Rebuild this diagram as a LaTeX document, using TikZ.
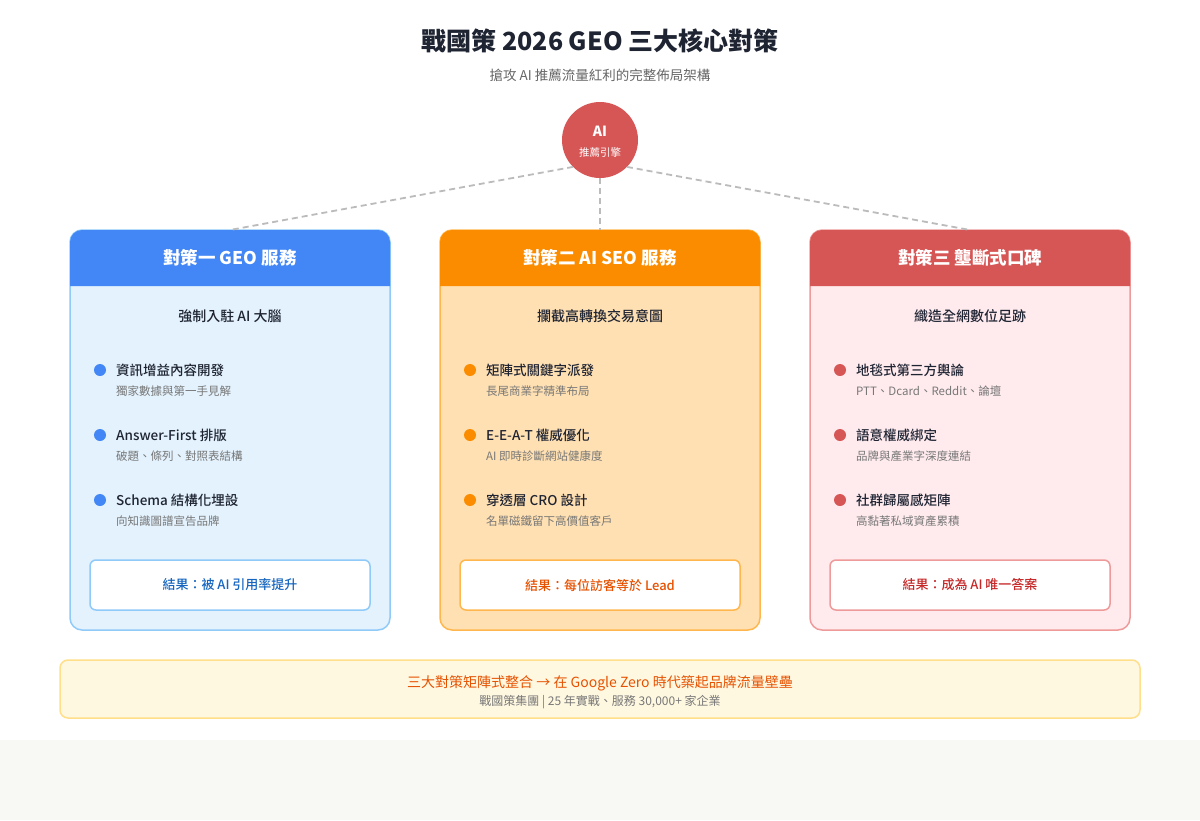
\documentclass[tikz,border=0pt]{standalone}
\usepackage{fontspec}
\setmainfont{Noto Sans CJK TC}
\newfontfamily\medfont{Noto Sans CJK TC Medium}
\usetikzlibrary{positioning}
\definecolor{inkdark}{HTML}{1F2433}
\definecolor{inkgray}{HTML}{666666}
\definecolor{notegray}{HTML}{777777}
\definecolor{linkgray}{HTML}{BBBBBB}
\definecolor{floorgray}{HTML}{F8F8F5}
\definecolor{aired}{HTML}{D65555}
\definecolor{bluehead}{HTML}{4287F5}
\definecolor{bluebody}{HTML}{E3F2FD}
\definecolor{blueline}{HTML}{90CAF9}
\definecolor{bluetext}{HTML}{1565C0}
\definecolor{orangehead}{HTML}{FB8C00}
\definecolor{orangebody}{HTML}{FFE0B2}
\definecolor{orangeline}{HTML}{FFB74D}
\definecolor{orangetext}{HTML}{E65100}
\definecolor{redhead}{HTML}{D65555}
\definecolor{redbody}{HTML}{FFEBEE}
\definecolor{redline}{HTML}{EF9A9A}
\definecolor{redtext}{HTML}{C62828}
\definecolor{bannerbody}{HTML}{FFF8E1}
\definecolor{bannerline}{HTML}{FFDF8A}
\newcommand{\fsz}[1]{\fontsize{#1}{#1}\selectfont}
\tikzset{
  card/.style={draw=#1line, fill=#1body, line width=1.5pt, rounded corners=12pt,
    minimum width=320pt, minimum height=400pt, inner sep=0pt, outer sep=0pt},
  headtxt/.style={text=white, font=\fsz{17.5}\bfseries, minimum width=320pt,
    minimum height=56pt, inner sep=0pt, outer sep=0pt},
  subtxt/.style={text=inkdark, font=\fsz{14}\medfont},
  dot/.style={circle, fill=#1head, minimum size=12pt, inner sep=0pt},
  item/.style={anchor=west, text=inkdark, font=\fsz{13.5}\medfont, inner sep=0pt},
  note/.style={anchor=west, text=notegray, font=\fsz{11.5}, inner sep=0pt},
  result/.style={draw=#1line, fill=white, line width=1.5pt, rounded corners=6pt,
    minimum width=280pt, minimum height=50pt, text=#1text, font=\fsz{13}\medfont},
  link/.style={draw=linkgray, line width=1.8pt, dash pattern=on 6pt off 4pt}
}
\begin{document}
\begin{tikzpicture}[x=1pt, y=-1pt]
  \useasboundingbox (0,0) rectangle (1200,820);
  \fill[white] (0,0) rectangle (1200,740);
  \fill[floorgray] (0,740) rectangle (1200,820);

  \node[text=inkdark, font=\fsz{25}\bfseries] (title) at (600,41) {戰國策 2026 GEO 三大核心對策};
  \node[text=inkgray, font=\fsz{13.5}] (subtitle) at (600,75) {搶攻 AI 推薦流量紅利的完整佈局架構};

  \node[circle, fill=aired, minimum size=76pt, inner sep=0pt, outer sep=0pt] (ai) at (600,140) {};
  \node[text=white, font=\fsz{14}\bfseries] (ai1) at (600,131) {AI};
  \node[text=white, font=\fsz{10.5}] (ai2) at (600,152) {推薦引擎};

  % card one
  \begin{scope}[shift={(230,0)}]
    \node[card=blue] (c1) at (0,430) {};
    \fill[bluehead] ([yshift=-56pt]c1.north west) [rounded corners=12pt] -- (c1.north west)
      -- (c1.north east) [sharp corners] -- ([yshift=-56pt]c1.north east) -- cycle;
    \node[headtxt] (h1) at (0,258) {對策一 GEO 服務};
    \node[subtxt] (s1) at (0,316) {強制入駐 AI 大腦};
    \node[dot=blue] (b11) at (-130,370) {};
    \node[item] (t11) at (-114,370) {資訊增益內容開發};
    \node[note] (n11) at (-114,391) {獨家數據與第一手見解};
    \node[dot=blue] (b12) at (-130,435) {};
    \node[item] (t12) at (-114,435) {Answer-First 排版};
    \node[note] (n12) at (-114,456) {破題、條列、對照表結構};
    \node[dot=blue] (b13) at (-130,500) {};
    \node[item] (t13) at (-114,500) {Schema 結構化埋設};
    \node[note] (n13) at (-114,521) {向知識圖譜宣告品牌};
    \node[result=blue] (r1) at (0,585) {結果：被 AI 引用率提升};
  \end{scope}

  % card two
  \begin{scope}[shift={(600,0)}]
    \node[card=orange] (c2) at (0,430) {};
    \fill[orangehead] ([yshift=-56pt]c2.north west) [rounded corners=12pt] -- (c2.north west)
      -- (c2.north east) [sharp corners] -- ([yshift=-56pt]c2.north east) -- cycle;
    \node[headtxt] (h2) at (0,258) {對策二 AI SEO 服務};
    \node[subtxt] (s2) at (0,316) {攔截高轉換交易意圖};
    \node[dot=orange] (b21) at (-130,370) {};
    \node[item] (t21) at (-114,370) {矩陣式關鍵字派發};
    \node[note] (n21) at (-114,391) {長尾商業字精準布局};
    \node[dot=orange] (b22) at (-130,435) {};
    \node[item] (t22) at (-114,435) {E-E-A-T 權威優化};
    \node[note] (n22) at (-114,456) {AI 即時診斷網站健康度};
    \node[dot=orange] (b23) at (-130,500) {};
    \node[item] (t23) at (-114,500) {穿透層 CRO 設計};
    \node[note] (n23) at (-114,521) {名單磁鐵留下高價值客戶};
    \node[result=orange] (r2) at (0,585) {結果：每位訪客等於 Lead};
  \end{scope}

  % card three
  \begin{scope}[shift={(970,0)}]
    \node[card=red] (c3) at (0,430) {};
    \fill[redhead] ([yshift=-56pt]c3.north west) [rounded corners=12pt] -- (c3.north west)
      -- (c3.north east) [sharp corners] -- ([yshift=-56pt]c3.north east) -- cycle;
    \node[headtxt] (h3) at (0,258) {對策三 壟斷式口碑};
    \node[subtxt] (s3) at (0,316) {織造全網數位足跡};
    \node[dot=red] (b31) at (-130,370) {};
    \node[item] (t31) at (-114,370) {地毯式第三方輿論};
    \node[note] (n31) at (-114,391) {PTT、Dcard、Reddit、論壇};
    \node[dot=red] (b32) at (-130,435) {};
    \node[item] (t32) at (-114,435) {語意權威綁定};
    \node[note] (n32) at (-114,456) {品牌與產業字深度連結};
    \node[dot=red] (b33) at (-130,500) {};
    \node[item] (t33) at (-114,500) {社群歸屬感矩陣};
    \node[note] (n33) at (-114,521) {高黏著私域資產累積};
    \node[result=red] (r3) at (0,585) {結果：成為 AI 唯一答案};
  \end{scope}

  \draw[link] (ai.south west) -- (h1.north);
  \draw[link] (ai.south) -- (h2.north);
  \draw[link] (ai.south east) -- (h3.north);

  \node[draw=bannerline, fill=bannerbody, line width=1.5pt, rounded corners=8pt,
    minimum width=1080pt, minimum height=58pt] (bn) at (600,689) {};
  \node[text=orangetext, font=\fsz{14}] (bn1) at (600,683) {三大對策矩陣式整合 → 在 Google Zero 時代築起品牌流量壁壘};
  \node[text=notegray, font=\fsz{12}] (bn2) at (600,702) {戰國策集團 | 25 年實戰、服務 30,000+ 家企業};
\end{tikzpicture}
\end{document}
